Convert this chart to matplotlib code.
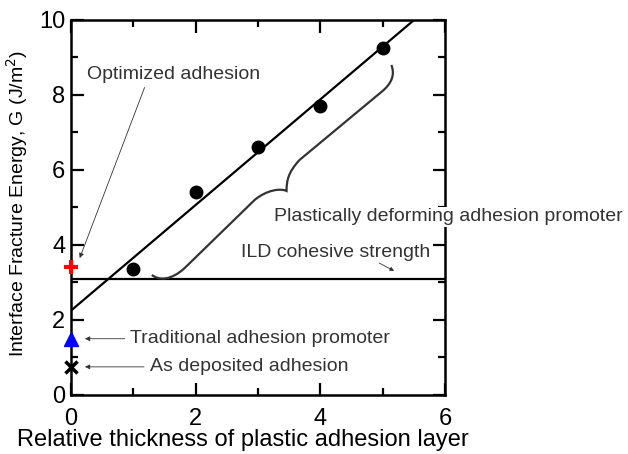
import numpy as np
import matplotlib.pyplot as plt
from matplotlib.path import Path
import matplotlib.patches as patches

plt.rcParams['font.family'] = ['Liberation Sans', 'DejaVu Sans']

# measured data
thickness = [1, 2, 3, 4, 5]
energy = [3.35, 5.4, 6.6, 7.7, 9.25]
fit_x = [0, 5.5]
fit_y = [2.25, 10.0]
ild_level = 3.1
optimized = 3.4
traditional = 1.5
deposited = 0.75

fig = plt.figure(figsize=(6.28, 4.54), dpi=100)
ax = fig.add_axes([0.113, 0.130, 0.596, 0.826])

ax.plot(fit_x, fit_y, color="#000", lw=1.6, zorder=3)
ax.axhline(ild_level, color="#000", lw=1.6, zorder=3)
ax.plot(thickness, energy, "o", color="#000", ms=9, zorder=4)
ax.plot([0], [optimized], "+", color="red", ms=10, mew=3, zorder=5, clip_on=False)
ax.plot([0], [traditional], "^", color="blue", ms=10, zorder=5, clip_on=False)
ax.plot([0], [deposited], "x", color="#000", ms=8, mew=2.5, zorder=5, clip_on=False)

# curly brace
verts = [(1.296, 3.2), (1.424, 3.04), (1.616, 3.067), (1.824, 3.387),
         (2.944, 5.2),
         (3.136, 5.467), (3.36, 5.52), (3.456, 5.44),
         (3.456, 5.733), (3.488, 5.947), (3.664, 6.267),
         (4.976, 8.08),
         (5.136, 8.293), (5.2, 8.533), (5.136, 8.8)]
codes = [Path.MOVETO, Path.CURVE4, Path.CURVE4, Path.CURVE4,
         Path.LINETO,
         Path.CURVE4, Path.CURVE4, Path.CURVE4,
         Path.CURVE4, Path.CURVE4, Path.CURVE4,
         Path.LINETO,
         Path.CURVE4, Path.CURVE4, Path.CURVE4]
ax.add_patch(patches.PathPatch(Path(verts, codes), fill=False,
                               edgecolor="#333", lw=1.6, zorder=3))

fs = 14
arrow = dict(arrowstyle="-|>", color="#333", lw=0.6, mutation_scale=7)
ax.text(0.26, 8.55, "Optimized adhesion", fontsize=fs, color="#333",
        va="center")
ax.annotate("", xy=(0.14, 3.65), xytext=(1.18, 8.2), arrowprops=dict(
    arrowstyle="-|>", color="#333", lw=0.6, mutation_scale=7,
    shrinkA=0, shrinkB=0))
ax.annotate("Traditional adhesion promoter", xy=(0.18, traditional),
            xytext=(0.95, traditional), fontsize=fs, color="#333",
            va="center", arrowprops=arrow)
ax.annotate("As deposited adhesion", xy=(0.18, deposited),
            xytext=(1.26, deposited), fontsize=fs, color="#333",
            va="center", arrowprops=arrow)
ax.text(2.72, 3.79, "ILD cohesive strength", fontsize=fs, color="#333",
        va="center")
ax.annotate("", xy=(5.18, 3.31), xytext=(4.94, 3.52), arrowprops=dict(
    arrowstyle="-|>", color="#333", lw=0.6, mutation_scale=6,
    shrinkA=0, shrinkB=0))
ax.text(3.25, 4.75, "Plastically deforming adhesion promoter", fontsize=fs,
        color="#333", va="center", clip_on=False, zorder=10,
        bbox=dict(facecolor="white", edgecolor="none", pad=1))

ax.set_xlim(0, 6)
ax.set_ylim(0, 10)
ax.set_xticks([0, 2, 4, 6])
ax.set_yticks([0, 2, 4, 6, 8, 10])
ax.set_xticks([1, 3, 5], minor=True)
ax.set_yticks([1, 3, 5, 7, 9], minor=True)
ax.tick_params(which="both", direction="in", top=True, right=True,
               width=1.6, labelsize=17)
ax.tick_params(axis="x", pad=9.5)
ax.tick_params(axis="y", pad=4)
ax.tick_params(which="major", length=9)
ax.tick_params(which="minor", length=5)
for s in ax.spines.values():
    s.set_linewidth(1.8)

ax.set_xlabel("Relative thickness of plastic adhesion layer", fontsize=17)
ax.xaxis.set_label_coords(0.459, -0.09)
ax.set_ylabel("Interface Fracture Energy, G (J/m$^2$)", fontsize=14)
ax.yaxis.set_label_coords(-0.11, 0.51)

plt.savefig("out.png", dpi=100)
